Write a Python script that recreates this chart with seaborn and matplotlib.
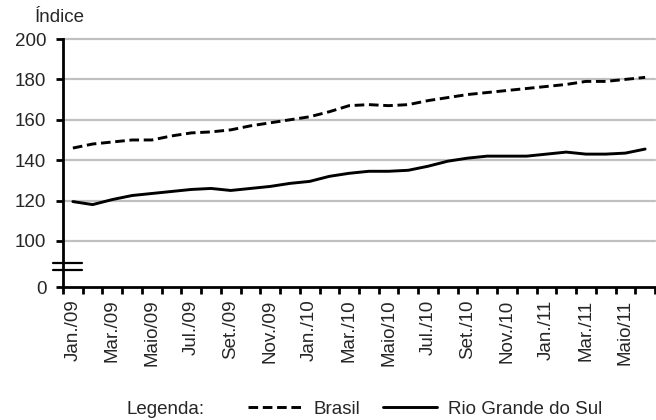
import pandas as pd
import seaborn as sns
import matplotlib.pyplot as plt
from matplotlib.lines import Line2D

months = [
    "Jan./09", "Fev./09", "Mar./09", "Abr./09", "Maio/09", "Jun./09",
    "Jul./09", "Ago./09", "Set./09", "Out./09", "Nov./09", "Dez./09",
    "Jan./10", "Fev./10", "Mar./10", "Abr./10", "Maio/10", "Jun./10",
    "Jul./10", "Ago./10", "Set./10", "Out./10", "Nov./10", "Dez./10",
    "Jan./11", "Fev./11", "Mar./11", "Abr./11", "Maio/11", "Jun./11",
]
brasil = [
    146.0, 148.0, 149.0, 150.0, 150.0, 152.0, 153.5, 154.0, 155.0, 157.0,
    158.5, 160.0, 161.5, 164.0, 167.0, 167.5, 167.0, 167.5, 169.5, 171.0,
    172.5, 173.5, 174.5, 175.5, 176.5, 177.5, 179.0, 179.0, 180.0, 181.0,
]
rio_grande_do_sul = [
    119.5, 118.0, 120.5, 122.5, 123.5, 124.5, 125.5, 126.0, 125.0, 126.0,
    127.0, 128.5, 129.5, 132.0, 133.5, 134.5, 134.5, 135.0, 137.0, 139.5,
    141.0, 142.0, 142.0, 142.0, 143.0, 144.0, 143.0, 143.0, 143.5, 145.5,
]
y_ticks = [100, 120, 140, 160, 180, 200]
# axis is broken between 0 and 100; 0 is drawn at this position
zero_pos = 77.2

df = pd.concat([
    pd.DataFrame({"pos": range(len(months)), "indice": brasil, "serie": "Brasil"}),
    pd.DataFrame({"pos": range(len(months)), "indice": rio_grande_do_sul,
                  "serie": "Rio Grande do Sul"}),
])

FS = 13.5

sns.set_theme(style="white")
plt.rcParams["font.family"] = ["Liberation Sans", "DejaVu Sans"]

fig = plt.figure(figsize=(6.56, 4.2), dpi=100)
ax = fig.add_axes([63 / 656, 1 - 287 / 420, 592 / 656, 248 / 420])

for v in y_ticks:
    ax.axhline(v, color="#c0c0c0", lw=1.6, zorder=0, clip_on=False)

dash = (3.3, 1.6)
sns.lineplot(
    data=df, x="pos", y="indice", hue="serie", style="serie",
    palette={"Brasil": "black", "Rio Grande do Sul": "black"},
    dashes={"Brasil": dash, "Rio Grande do Sul": ""},
    lw=2.1, legend=False, ax=ax,
)

ax.set_xlim(-0.5, len(months) - 0.5)
ax.set_ylim(zero_pos, 200)
ax.set_yticks([zero_pos] + y_ticks)
ax.set_yticklabels(["0"] + [str(v) for v in y_ticks], fontsize=FS)
ax.set_xticks(range(0, len(months), 2))
ax.set_xticklabels(months[::2], rotation=90, fontsize=FS)
ax.set_xticks([i - 0.5 for i in range(len(months) + 1)], minor=True)
ax.tick_params(axis="x", which="major", length=0, pad=9)
ax.tick_params(axis="x", which="minor", length=5, width=2, color="black",
               direction="out", bottom=True)
ax.tick_params(axis="y", length=5, width=2, color="black", direction="out",
               left=True, pad=7)
ax.set_xlabel("")
ax.set_ylabel("")

for side in ["top", "right"]:
    ax.spines[side].set_visible(False)
for side in ["left", "bottom"]:
    ax.spines[side].set_color("black")
    ax.spines[side].set_linewidth(2)

# break marks on the y axis
for yb in [89.3, 85.4]:
    ax.plot([-0.017, 0.032], [yb, yb], color="black", lw=1.6,
            transform=ax.get_yaxis_transform(), clip_on=False)

fig.text(35 / 656, 1 - 18 / 420, "Índice", fontsize=FS, va="center", ha="left")

fig.text(126 / 656, 1 - 409 / 420, "Legenda:", fontsize=FS, va="center")
handles = [
    Line2D([], [], color="black", lw=2.1, dashes=dash),
    Line2D([], [], color="black", lw=2.1),
]
fig.legend(handles, ["Brasil", "Rio Grande do Sul"], ncol=2, frameon=False,
           loc="center left", bbox_to_anchor=(248 / 656, 1 - 409 / 420),
           fontsize=FS, handlelength=2.9, handletextpad=0.6, columnspacing=1.2,
           borderaxespad=0, borderpad=0)

fig.savefig("out.png", dpi=100)
